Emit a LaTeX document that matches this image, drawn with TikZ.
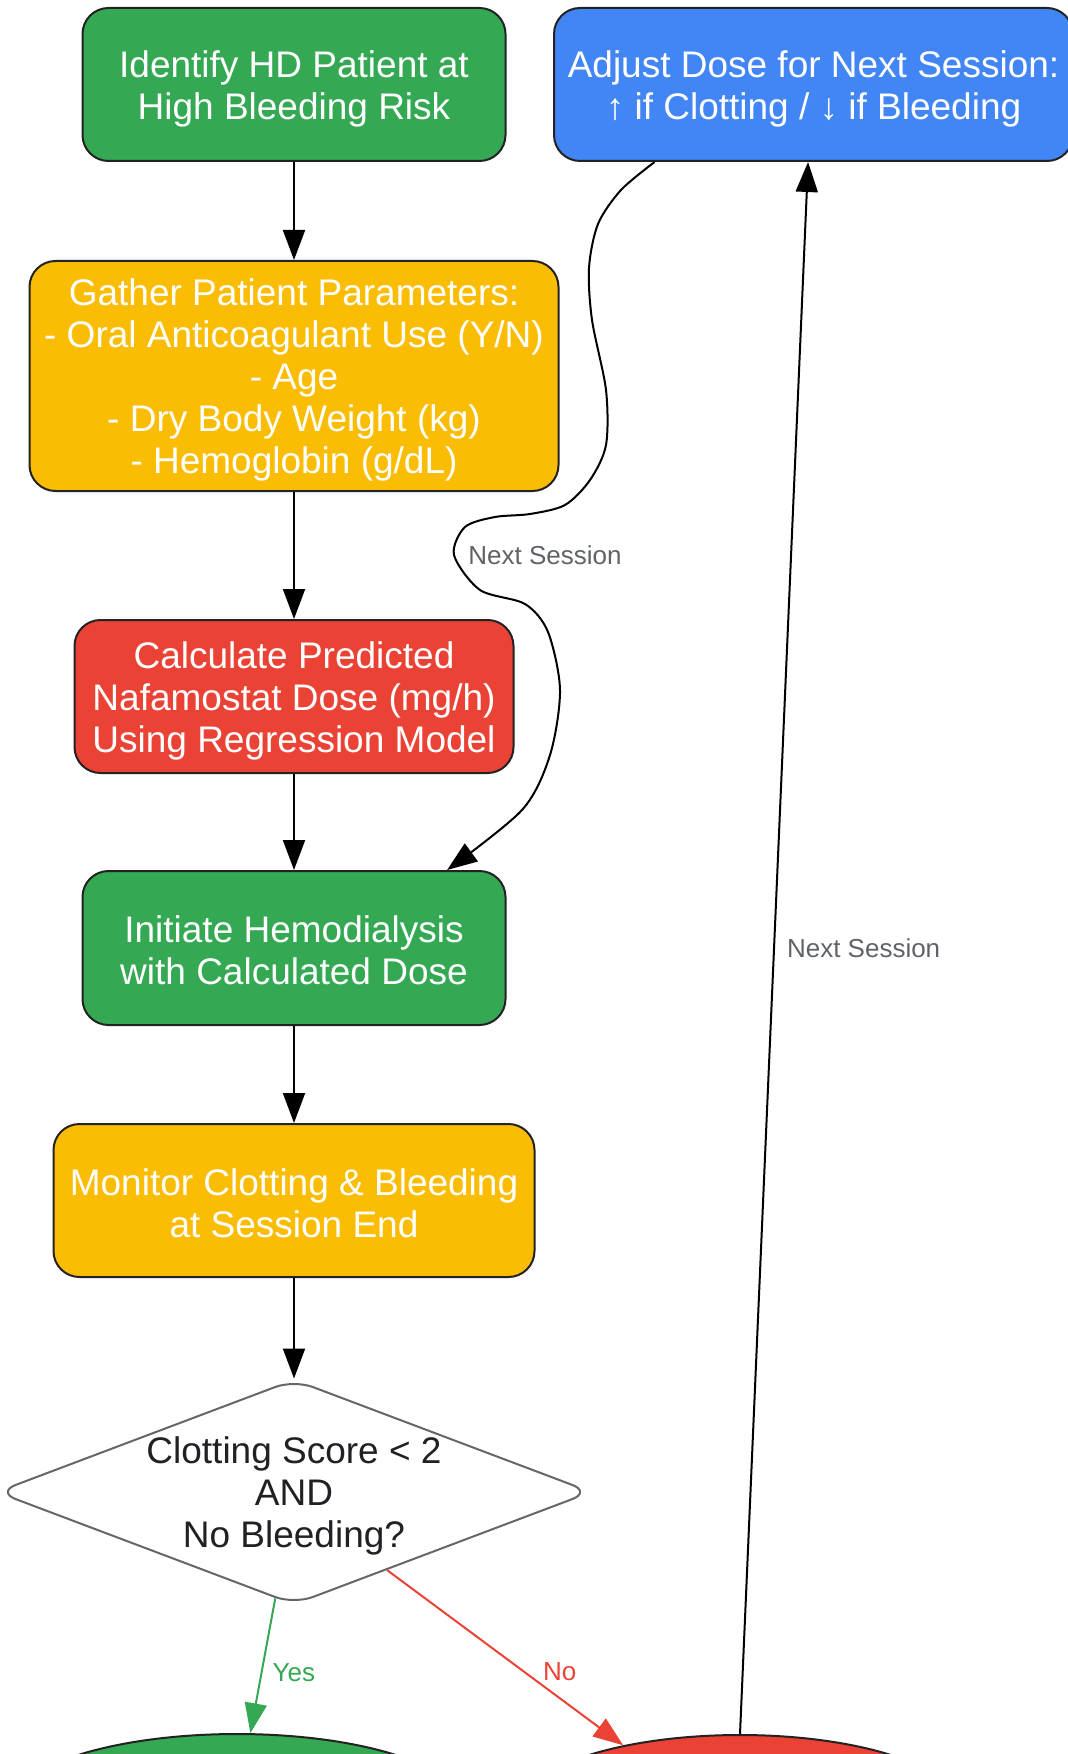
\documentclass[tikz,border=0pt]{standalone}
\usepackage{fontspec}
\setmainfont{Liberation Sans}
\usetikzlibrary{arrows.meta,shapes.geometric}
\definecolor{verde}{HTML}{34A853}
\definecolor{amarillo}{HTML}{FBBC04}
\definecolor{rojo}{HTML}{EA4335}
\definecolor{azul}{HTML}{4285F4}
\definecolor{borde}{HTML}{222222}
\definecolor{grisrombo}{HTML}{666666}
\definecolor{grisetiqueta}{HTML}{5F6368}
\definecolor{textorombo}{HTML}{202124}
\newcommand{\cimatexto}{\rule{0pt}{17.7pt}} % alto de la primera linea
\newcommand{\pietexto}{\rule[-2pt]{0pt}{2pt}} % fondo de la ultima linea
\begin{document}
\begin{tikzpicture}[x=0.5pt,y=-0.5pt,
    texto/.style={align=center,font=\fontsize{18.5}{21}\selectfont},
    caja/.style={texto,draw=borde,line width=1pt,rounded corners=13pt,text=white,inner sep=0pt},
    rombo/.style={diamond,draw=grisrombo,line width=1pt,fill=white,rounded corners=10pt,inner sep=0pt},
    ovalo/.style={ellipse,draw=borde,line width=1pt,inner sep=0pt},
    flecha/.style={line width=1pt,-{Triangle[length=15pt,width=11pt]}},
    etiqueta/.style={font=\fontsize{13}{15}\selectfont,text=grisetiqueta,inner sep=1pt}]
            % Marco de la imagen
            \useasboundingbox (0,0) rectangle (1067,1754); % Fija el tamano de la pagina

            % Cajas del flujo
            \node[caja,fill=verde,minimum width=211.5pt,minimum height=76.5pt] (identificar) at (294,84.5) {\cimatexto Identify HD Patient at\\High Bleeding Risk\pietexto}; % Paso inicial
            \node[caja,fill=azul,minimum width=259.5pt,minimum height=76.5pt] (ajustar) at (813.5,84.5) {\cimatexto Adjust Dose for Next Session:\\↑ if Clotting / ↓ if Bleeding\pietexto}; % Ajuste de dosis
            \node[caja,fill=amarillo,minimum width=264.5pt,minimum height=115pt] (parametros) at (294,376) {\cimatexto Gather Patient Parameters:\\- Oral Anticoagulant Use (Y/N)\\- Age\\- Dry Body Weight (kg)\\- Hemoglobin (g/dL)\pietexto}; % Datos del paciente
            \node[caja,fill=rojo,minimum width=219.5pt,minimum height=76.5pt] (calcular) at (294,696.5) {\cimatexto Calculate Predicted\\Nafamostat Dose (mg/h)\\Using Regression Model\pietexto}; % Modelo de regresion
            \node[caja,fill=verde,minimum width=211.5pt,minimum height=77pt] (iniciar) at (294,948) {\cimatexto Initiate Hemodialysis\\with Calculated Dose\pietexto}; % Inicio de la sesion
            \node[caja,fill=amarillo,minimum width=240.5pt,minimum height=76.5pt] (monitorear) at (294,1200.5) {\cimatexto Monitor Clotting \& Bleeding\\at Session End\pietexto}; % Control al final

            % Decision
            \node[rombo,minimum width=297.5pt,minimum height=112.5pt] (criterio) at (294,1492) {}; % Rombo de decision
            \node[texto,text=textorombo] (textocriterio) at (criterio) {\cimatexto Clotting Score < 2\\AND\\No Bleeding?\pietexto}; % Texto del rombo

            % Resultados (cortados por el borde inferior)
            \node[ovalo,fill=verde,minimum width=229pt,minimum height=75pt] (si) at (237,1809) {}; % Resultado si
            \node[ovalo,fill=rojo,minimum width=222pt,minimum height=75pt] (no) at (740,1810) {}; % Resultado no

            % Flechas principales
            \draw[flecha] (identificar) -- (parametros); % Paso 1 a paso 2
            \draw[flecha] (parametros) -- (calcular); % Paso 2 a paso 3
            \draw[flecha] (calcular) -- (iniciar); % Paso 3 a paso 4
            \draw[flecha] (iniciar) -- (monitorear); % Paso 4 a paso 5
            \draw[flecha] (monitorear) -- (criterio); % Paso 5 a la decision

            % Ramas de la decision
            \draw[flecha,draw=verde] (criterio.260) -- (si.80) node[etiqueta,text=verde,pos=0.55,right=4pt] {Yes}; % Rama si
            \draw[flecha,draw=rojo] (criterio.320) -- (no.151) node[etiqueta,text=rojo,pos=0.58,right=8pt] {No}; % Rama no

            % Ciclo de la siguiente sesion
            \draw[flecha] (no.north) -- (ajustar.266) node[etiqueta,pos=0.5,right=5pt] {Next Session}; % Vuelta al ajuste
            \draw[flecha] plot[smooth] coordinates {(ajustar.206) (621,190) (598,224) (589,268) (592,320) (606,390) (606,445) (590,480) (565,505) (530,514) (495,517) (465,527) (454,555) (480,590) (525,604) (548,632) (560,690) (550,755) (522,810) (iniciar.27)}; % Curva hacia el inicio
            \node[etiqueta,anchor=west] (etqsesion) at (466,555) {Next Session}; % Etiqueta de la curva
\end{tikzpicture}
\end{document}
